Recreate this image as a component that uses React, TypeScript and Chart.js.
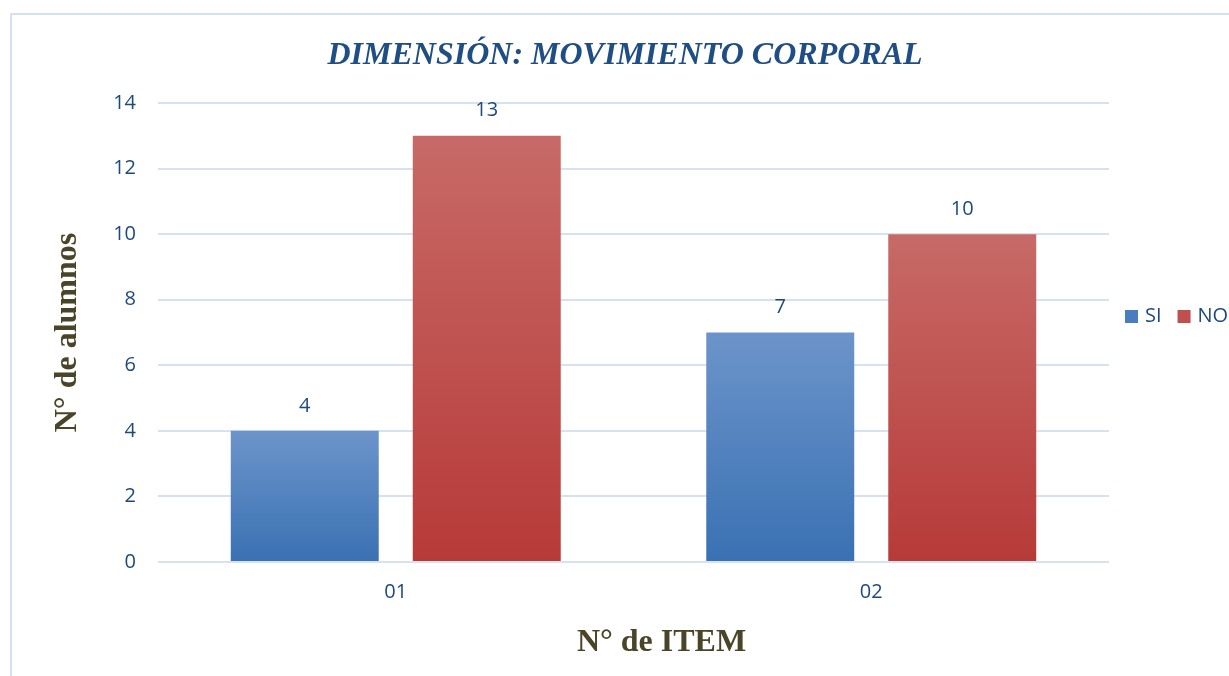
import React, { useEffect, useRef } from "react";
import { Chart, registerables } from "chart.js";

Chart.register(...registerables);

const categories = ["01", "02"];
const siValues = [4, 7];
const noValues = [13, 10];
const seriesNames = ["SI", "NO"];
const yTicks = [0, 2, 4, 6, 8, 10, 12, 14];

const chartTitle = "DIMENSIÓN: MOVIMIENTO CORPORAL";
const xTitle = "N° de ITEM";
const yTitle = "N° de alumnos";

const BLUE = { top: "#6c94ca", bottom: "#3a71b3", solid: "#4a7dbf" };
const RED = { top: "#c76a67", bottom: "#b73a38", solid: "#c0504d" };
const TEXT_BLUE = "#1f497d";
const AXIS_TITLE = "#4a4528";
const GRID = "#d7e2f1";

function gradientFill(pal: { top: string; bottom: string; solid: string }) {
  return (ctx: any) => {
    const chart = ctx.chart;
    if (!chart.chartArea || ctx.type !== "data") return pal.solid;
    const y = chart.scales.y;
    const top = y.getPixelForValue(ctx.raw);
    const base = y.getPixelForValue(0);
    if (!isFinite(top) || !isFinite(base) || top === base) return pal.solid;
    const g = chart.ctx.createLinearGradient(0, top, 0, base);
    g.addColorStop(0, pal.top);
    g.addColorStop(1, pal.bottom);
    return g;
  };
}

const extrasPlugin = {
  id: "extras",
  beforeDraw(chart: any) {
    const c = chart.ctx;
    c.save();
    c.strokeStyle = "#d5e1f2";
    c.lineWidth = 2;
    c.beginPath();
    c.moveTo(11, 676);
    c.lineTo(11, 14);
    c.lineTo(1229, 14);
    c.stroke();
    c.restore();
  },
  afterDatasetsDraw(chart: any) {
    const c = chart.ctx;
    c.save();
    c.font = "20px 'Open Sans'";
    c.fillStyle = TEXT_BLUE;
    c.textAlign = "center";
    c.textBaseline = "middle";
    chart.data.datasets.forEach((ds: any, i: number) => {
      const meta = chart.getDatasetMeta(i);
      meta.data.forEach((el: any, j: number) => {
        c.fillText(String(ds.data[j]), el.x, el.y - 25);
      });
    });
    c.restore();
  },
  afterDraw(chart: any) {
    const c = chart.ctx;
    const area = chart.chartArea;
    c.save();
    // x axis title
    c.font = "bold 32px 'Liberation Serif'";
    c.fillStyle = AXIS_TITLE;
    c.textAlign = "center";
    c.textBaseline = "middle";
    c.fillText(xTitle, (area.left + area.right) / 2 + 28, 643);
    // legend
    const cy = 316;
    let x = area.right + 16;
    c.font = "20px 'Open Sans'";
    c.textAlign = "left";
    chart.data.datasets.forEach((ds: any, i: number) => {
      const pal = i === 0 ? BLUE : RED;
      c.fillStyle = pal.solid;
      c.fillRect(x, cy - 6, 13, 13);
      c.fillStyle = TEXT_BLUE;
      c.fillText(ds.label, x + 20, cy);
      x += 20 + c.measureText(ds.label).width + 16;
    });
    c.restore();
  },
};

export default function App() {
  const ref = useRef<HTMLCanvasElement>(null);

  useEffect(() => {
    if (!ref.current) return;
    const chart = new Chart(ref.current, {
      type: "bar",
      data: {
        labels: categories,
        datasets: [
          {
            label: seriesNames[0],
            data: siValues,
            backgroundColor: gradientFill(BLUE),
            categoryPercentage: 0.7655,
            barPercentage: 0.813,
          },
          {
            label: seriesNames[1],
            data: noValues,
            backgroundColor: gradientFill(RED),
            categoryPercentage: 0.7655,
            barPercentage: 0.813,
          },
        ],
      },
      options: {
        responsive: false,
        animation: false,
        devicePixelRatio: 1,
        layout: { padding: { left: 21, right: 0, top: 0, bottom: 0 } },
        plugins: {
          legend: { display: false },
          tooltip: { enabled: false },
          title: {
            display: true,
            text: chartTitle,
            color: "#1f4e84",
            font: { family: "'Liberation Serif'", size: 32, weight: "bold", style: "italic", lineHeight: 1.2 },
            padding: { top: 37, bottom: 27.6 },
          },
        },
        scales: {
          x: {
            type: "category",
            grid: { display: false, drawTicks: false },
            border: { display: false },
            ticks: {
              color: TEXT_BLUE,
              font: { family: "'Open Sans'", size: 20 },
              padding: 18,
            },
            afterFit: (s: any) => {
              s.height = 114;
            },
          },
          y: {
            min: 0,
            max: 14,
            afterBuildTicks: (s: any) => {
              s.ticks = yTicks.map((v) => ({ value: v }));
            },
            grid: { color: GRID, lineWidth: 2, drawTicks: false },
            border: { display: false },
            ticks: {
              color: TEXT_BLUE,
              font: { family: "'Open Sans'", size: 20 },
              padding: 22,
            },
            title: {
              display: true,
              text: yTitle,
              color: AXIS_TITLE,
              font: { family: "'Liberation Serif'", size: 32, weight: "bold", lineHeight: 1.2 },
              padding: { top: 27.8, bottom: 0 },
            },
            afterFit: (s: any) => {
              s.width = 137;
            },
          },
          yRight: {
            type: "linear",
            position: "right",
            display: true,
            grid: { display: false, drawTicks: false },
            border: { display: false },
            ticks: { display: false },
            afterFit: (s: any) => {
              s.width = 120;
            },
          },
        },
      },
      plugins: [extrasPlugin],
    } as any);
    return () => chart.destroy();
  }, []);

  return (
    <div style={{ position: "fixed", left: 0, top: 0, width: 1229, height: 676, background: "#fff" }}>
      <canvas ref={ref} width={1229} height={676} style={{ display: "block" }} />
    </div>
  );
}
